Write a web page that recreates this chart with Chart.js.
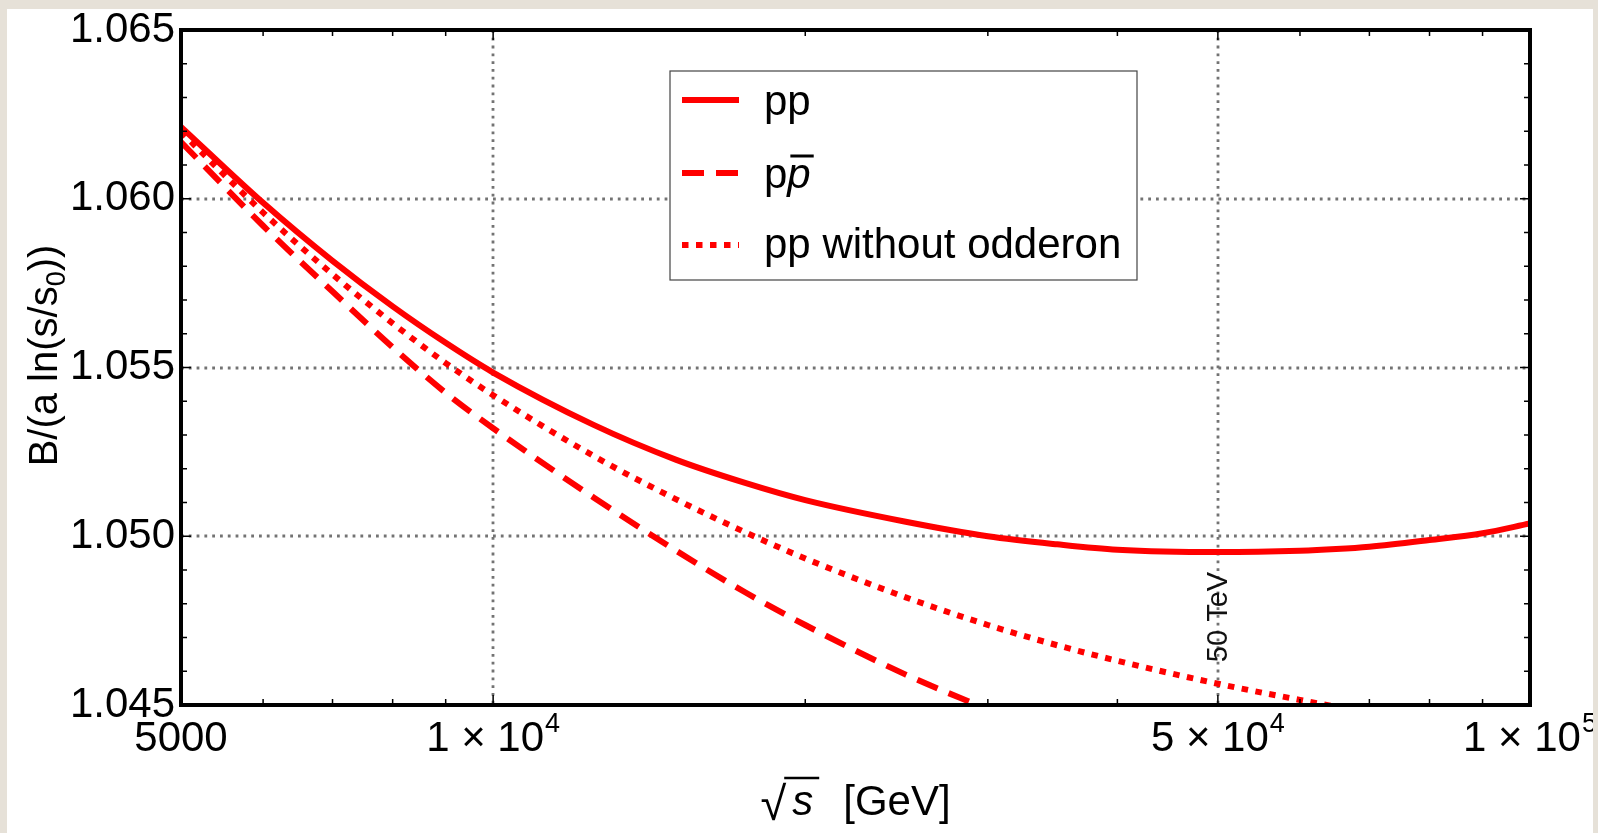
<!DOCTYPE html>
<html lang="en">
<head>
  <meta charset="UTF-8">
  <title>B/(a ln(s/s0)) versus sqrt(s)</title>
  <style>
    body {
      margin: 0;
      background: #e6e1d8;
    }
    .panel {
      position: absolute;
      left: 7px;
      top: 9px;
      width: 1586px;
      height: 824px;
      background: #fff;
    }
  </style>
</head>
<body>
  <div class="panel">
    <canvas id="chart" width="1586" height="824"></canvas>
  </div>

  <script src="https://cdn.jsdelivr.net/npm/chart.js"></script>
  <script>
    // sqrt(s) in GeV, shared by the three curves
    const energies = [5000, 6000, 7000, 8000, 9000, 10000, 12500, 15000, 17500, 20000,
                      25000, 30000, 35000, 40000, 50000, 60000, 65000, 70000, 80000, 90000, 100000];

    // pp
    const ppValues = [1.06213, 1.05988, 1.05816, 1.05681, 1.05573, 1.05485, 1.0533, 1.05227, 1.05158, 1.05107,
                      1.05043, 1.0500, 1.04976, 1.0496, 1.04953, 1.04957, 1.04962, 1.04969, 1.04989, 1.05009, 1.05038];

    // p pbar (leaves the frame near 30 TeV)
    const ppbarValues = [1.06168, 1.0592, 1.05725, 1.0556, 1.05425, 1.0532, 1.05115, 1.04958, 1.04834, 1.04737,
                         1.0459, 1.04487, null, null, null, null, null, null, null, null, null];

    // pp without odderon (leaves the frame near 64 TeV)
    const noOdderonValues = [1.06198, 1.05959, 1.05776, 1.05631, 1.05513, 1.05418, 1.05238, 1.0511, 1.05012, 1.04934,
                             1.04819, 1.04737, 1.04677, 1.04631, 1.04563, 1.04515, 1.04495, null, null, null, null];

    const seriesNames = ['pp', 'pp\u0304', 'pp without odderon'];

    // axes
    const xTickValues = [5000, 10000, 50000, 100000];
    const xTickBases = ['5000', '1 \u00d7 10', '5 \u00d7 10', '1 \u00d7 10'];
    const xTickExponents = ['', '4', '4', '5'];
    const xMinorTicks = [6000, 7000, 8000, 9000, 20000, 30000, 40000, 60000, 70000, 80000, 90000];
    const xGridValues = [10000, 50000];
    const yTickValues = [1.045, 1.050, 1.055, 1.060, 1.065];
    const yGridValues = [1.050, 1.055, 1.060];
    const markerValue = 50000;
    const markerLabel = '50 TeV';

    const FONT = '"Liberation Sans", Arial, sans-serif';
    const RED = '#ff0000';

    function points(values) {
      return energies.map((e, i) => ({ x: e, y: values[i] }));
    }

    const decor = {
      id: 'decor',
      beforeDatasetsDraw(chart) {
        const { ctx, chartArea: a, scales: { x, y } } = chart;
        ctx.save();
        // dotted grid lines
        ctx.strokeStyle = '#737373';
        ctx.lineWidth = 2.8;
        ctx.setLineDash([2.8, 5]);
        ctx.beginPath();
        xGridValues.forEach(v => {
          const px = Math.round(x.getPixelForValue(v));
          ctx.moveTo(px, a.top);
          ctx.lineTo(px, a.bottom);
        });
        yGridValues.forEach(v => {
          const py = Math.round(y.getPixelForValue(v));
          ctx.moveTo(a.left, py);
          ctx.lineTo(a.right, py);
        });
        ctx.stroke();

        // vertical marker label
        ctx.setLineDash([]);
        ctx.translate(x.getPixelForValue(markerValue) + 1, 608);
        ctx.rotate(-Math.PI / 2);
        ctx.font = '29px ' + FONT;
        ctx.fillStyle = '#111';
        ctx.textAlign = 'center';
        ctx.textBaseline = 'middle';
        ctx.fillText(markerLabel, 0, 0);
        ctx.restore();
      },
      afterDatasetsDraw(chart) {
        const { ctx, chartArea: a, scales: { x, y } } = chart;
        ctx.save();

        // tick marks, inside the frame on all four sides
        ctx.strokeStyle = '#000';
        ctx.lineWidth = 1.5;
        ctx.beginPath();
        const xTick = (v, len) => {
          const px = x.getPixelForValue(v);
          ctx.moveTo(px, a.bottom); ctx.lineTo(px, a.bottom - len);
          ctx.moveTo(px, a.top); ctx.lineTo(px, a.top + len);
        };
        const yTick = (v, len) => {
          const py = y.getPixelForValue(v);
          ctx.moveTo(a.left, py); ctx.lineTo(a.left + len, py);
          ctx.moveTo(a.right, py); ctx.lineTo(a.right - len, py);
        };
        xMinorTicks.forEach(v => xTick(v, 6));
        xGridValues.forEach(v => xTick(v, 10));
        for (let k = 1; k < 20; k++) {
          yTick(1.045 + k * 0.001, k % 5 === 0 ? 10 : 6);
        }
        ctx.stroke();

        // frame
        ctx.lineWidth = 4;
        ctx.strokeRect(a.left, a.top, a.right - a.left, a.bottom - a.top);

        // x tick labels with raised exponents
        ctx.fillStyle = '#000';
        ctx.textBaseline = 'alphabetic';
        ctx.textAlign = 'left';
        xTickValues.forEach((v, i) => {
          ctx.font = '42px ' + FONT;
          const bw = ctx.measureText(xTickBases[i]).width;
          ctx.font = '27px ' + FONT;
          const ew = xTickExponents[i] ? ctx.measureText(xTickExponents[i]).width + 1 : 0;
          const left = x.getPixelForValue(v) - (bw + ew) / 2;
          ctx.font = '42px ' + FONT;
          ctx.fillText(xTickBases[i], left, 742);
          if (ew) {
            ctx.font = '27px ' + FONT;
            ctx.fillText(xTickExponents[i], left + bw + 1, 723);
          }
        });

        // legend
        const lg = { left: 663, top: 62, width: 467, height: 209 };
        ctx.fillStyle = '#fff';
        ctx.fillRect(lg.left, lg.top, lg.width, lg.height);
        ctx.strokeStyle = '#444';
        ctx.lineWidth = 1.2;
        ctx.strokeRect(lg.left, lg.top, lg.width, lg.height);
        const lineY = [91, 164, 236];
        const textY = [106, 179, 249];
        chart.data.datasets.forEach((ds, i) => {
          ctx.strokeStyle = ds.borderColor;
          ctx.lineWidth = ds.borderWidth;
          ctx.lineCap = 'butt';
          ctx.setLineDash(ds.borderDash || []);
          ctx.beginPath();
          ctx.moveTo(675, lineY[i]);
          ctx.lineTo(732, lineY[i]);
          ctx.stroke();
        });
        ctx.setLineDash([]);
        ctx.fillStyle = '#000';
        ctx.font = '42px ' + FONT;
        ctx.fillText(seriesNames[0], 757, textY[0]);
        ctx.fillText(seriesNames[2], 757, textY[2]);
        // p followed by an italic, overlined p
        ctx.fillText('p', 757, textY[1]);
        const pW = ctx.measureText('p').width;
        ctx.font = 'italic 42px ' + FONT;
        ctx.fillText('p', 757 + pW, textY[1]);
        const ipW = ctx.measureText('p').width;
        ctx.strokeStyle = '#000';
        ctx.lineWidth = 3;
        ctx.beginPath();
        ctx.moveTo(757 + pW + 3, textY[1] - 32);
        ctx.lineTo(757 + pW + ipW + 3, textY[1] - 32);
        ctx.stroke();

        // x title: sqrt(s) [GeV]
        const cx = (a.left + a.right) / 2;
        const base = 806;
        ctx.font = '47px ' + FONT;
        const rootW = ctx.measureText('\u221A').width;
        ctx.font = 'italic 42px ' + FONT;
        const sW = ctx.measureText('s').width;
        ctx.font = '42px ' + FONT;
        const unitW = ctx.measureText('[GeV]').width;
        const gap1 = 6, gap2 = 30;
        let px = cx - (rootW + gap1 + sW + gap2 + unitW) / 2;
        ctx.font = '47px ' + FONT;
        ctx.fillText('\u221A', px, base + 5);
        ctx.lineWidth = 2.5;
        ctx.beginPath();
        ctx.moveTo(px + rootW - 2, base - 37);
        ctx.lineTo(px + rootW + gap1 + sW + 6, base - 37);
        ctx.stroke();
        px += rootW + gap1;
        ctx.font = 'italic 42px ' + FONT;
        ctx.fillText('s', px, base);
        px += sW + gap2;
        ctx.font = '42px ' + FONT;
        ctx.fillText('[GeV]', px, base);

        // y title: B/(a ln(s/s0))
        ctx.translate(50, (a.top + a.bottom) / 2 - 12);
        ctx.rotate(-Math.PI / 2);
        ctx.font = '40px ' + FONT;
        const head = 'B/(a ln(s/s', tail = '))';
        const headW = ctx.measureText(head).width;
        const tailW = ctx.measureText(tail).width;
        ctx.font = '27px ' + FONT;
        const subW = ctx.measureText('0').width;
        let tx = -(headW + subW + tailW) / 2;
        ctx.font = '40px ' + FONT;
        ctx.fillText(head, tx, 0);
        tx += headW;
        ctx.font = '27px ' + FONT;
        ctx.fillText('0', tx, 8);
        tx += subW;
        ctx.font = '40px ' + FONT;
        ctx.fillText(tail, tx, 0);

        ctx.restore();
      }
    };

    new Chart(document.getElementById('chart'), {
      type: 'line',
      data: {
        datasets: [
          {
            label: seriesNames[0],
            data: points(ppValues),
            borderColor: RED,
            borderWidth: 6,
            borderDash: []
          },
          {
            label: seriesNames[1],
            data: points(ppbarValues),
            borderColor: RED,
            borderWidth: 6,
            borderDash: [22, 12]
          },
          {
            label: seriesNames[2],
            data: points(noOdderonValues),
            borderColor: RED,
            borderWidth: 6,
            borderDash: [6.5, 7.5]
          }
        ]
      },
      options: {
        responsive: false,
        animation: false,
        devicePixelRatio: 1,
        layout: { padding: { top: 21, right: 0, bottom: 0, left: 0 } },
        elements: {
          point: { radius: 0 },
          line: { cubicInterpolationMode: 'monotone', borderCapStyle: 'butt', borderJoinStyle: 'round', fill: false }
        },
        datasets: { line: { clip: 0, spanGaps: false } },
        scales: {
          x: {
            type: 'logarithmic',
            min: 5000,
            max: 100000,
            grid: { display: false, drawTicks: false },
            border: { display: false },
            afterBuildTicks: scale => { scale.ticks = xTickValues.map(v => ({ value: v })); },
            afterFit: scale => {
              scale.height = 128;
              scale.paddingLeft = 0;
              scale.paddingRight = 63;
            },
            ticks: { display: false }
          },
          y: {
            type: 'linear',
            min: 1.045,
            max: 1.065,
            grid: { display: false, drawTicks: false },
            border: { display: false },
            afterBuildTicks: scale => { scale.ticks = yTickValues.map(v => ({ value: v })); },
            afterFit: scale => {
              scale.width = 174;
              scale.paddingTop = 0;
              scale.paddingBottom = 0;
            },
            ticks: {
              autoSkip: false,
              padding: 6,
              color: '#000',
              font: { family: FONT, size: 42 },
              callback: value => value.toFixed(3)
            }
          }
        },
        plugins: {
          legend: { display: false },
          tooltip: { enabled: false }
        }
      },
      plugins: [decor]
    });
  </script>
</body>
</html>
